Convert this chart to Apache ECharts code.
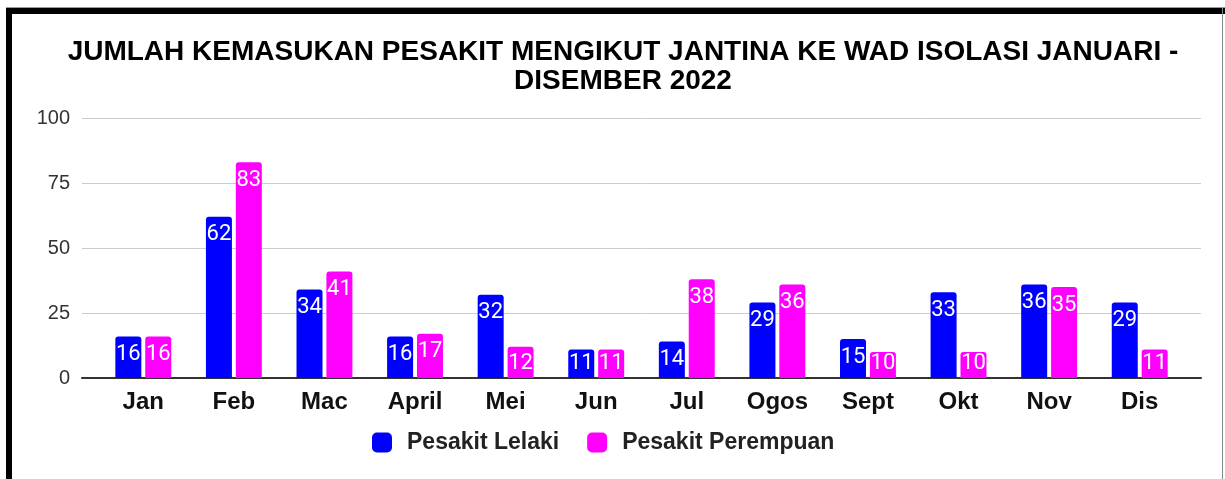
<!DOCTYPE html>
<html>
<head>
<meta charset="utf-8">
<script src="https://cdn.jsdelivr.net/npm/echarts@6/dist/echarts.min.js"></script>
<style>
  html, body { margin: 0; padding: 0; background: #fff; }
  #chart { width: 1225px; height: 479px; }
</style>
</head>
<body>
<div id="chart"></div>
<script>
var months = ['Jan', 'Feb', 'Mac', 'April', 'Mei', 'Jun', 'Jul', 'Ogos', 'Sept', 'Okt', 'Nov', 'Dis'];
var lelaki = [16, 62, 34, 16, 32, 11, 14, 29, 15, 33, 36, 29];
var perempuan = [16, 83, 41, 17, 12, 11, 38, 36, 10, 10, 35, 11];
var yTicks = [0, 25, 50, 75, 100];

var chart = echarts.init(document.getElementById('chart'));

var barLabel = {
    show: true,
    position: 'insideTop',
    distance: 7,
    color: '#fff',
    fontFamily: 'Roboto',
    fontSize: 22
};

// keep the value label inside short bars, like the original chart does
function clampLabel(p) {
    var top = p.rect.y;
    var bottom = p.rect.y + p.rect.height;
    var cy = Math.min(top + 18, bottom - 15);
    return {
        x: p.rect.x + p.rect.width / 2,
        y: cy,
        align: 'center',
        verticalAlign: 'middle'
    };
}

var option = {
    backgroundColor: '#fff',
    animation: false,
    title: {
        text: 'JUMLAH KEMASUKAN PESAKIT MENGIKUT JANTINA KE WAD ISOLASI JANUARI -\nDISEMBER 2022',
        left: 618,
        textAlign: 'center',
        top: 33,
        textStyle: {
            fontFamily: 'Liberation Sans',
            fontWeight: 'bold',
            fontSize: 28,
            lineHeight: 29,
            color: '#000'
        }
    },
    legend: {
        data: ['Pesakit Lelaki', 'Pesakit Perempuan'],
        top: 431,
        left: 372,
        itemWidth: 20,
        itemHeight: 20,
        itemGap: 28,
        icon: 'roundRect',
        padding: 0,
        textStyle: {
            fontFamily: 'Liberation Sans',
            fontWeight: 'bold',
            fontSize: 23,
            color: '#222',
            padding: [0, 0, 0, 10]
        }
    },
    grid: [
        { left: 98, right: 40, top: 118, bottom: 101 },
        { left: 82, right: 24, top: 118, bottom: 101 }
    ],
    xAxis: [
        {
            type: 'category',
            gridIndex: 0,
            data: months,
            axisLine: { show: false },
            axisTick: { show: false },
            axisLabel: {
                margin: 12,
                fontFamily: 'Liberation Sans',
                fontWeight: 'bold',
                fontSize: 24,
                color: '#111'
            }
        },
        {
            type: 'value',
            gridIndex: 1,
            min: 0,
            max: 1,
            axisLine: { show: true, onZero: false, lineStyle: { color: '#333', width: 2 } },
            axisTick: { show: false },
            axisLabel: { show: false },
            splitLine: { show: false }
        }
    ],
    yAxis: [
        {
            type: 'value',
            gridIndex: 0,
            min: 0,
            max: 100,
            interval: 25,
            show: false,
            splitLine: { show: false }
        },
        {
            type: 'value',
            gridIndex: 1,
            min: yTicks[0],
            max: yTicks[yTicks.length - 1],
            interval: 25,
            axisLine: { show: false },
            axisTick: { show: false },
            axisLabel: {
                margin: 12,
                fontFamily: 'Liberation Sans',
                fontSize: 20,
                color: '#333'
            },
            splitLine: { lineStyle: { color: '#ccc', width: 1 } }
        }
    ],
    series: [
        {
            name: 'Pesakit Lelaki',
            type: 'bar',
            xAxisIndex: 0,
            yAxisIndex: 0,
            data: lelaki,
            barWidth: 26,
            barGap: '15%',
            itemStyle: { color: '#0000ff', borderRadius: [3, 3, 0, 0] },
            label: barLabel,
            labelLayout: clampLabel,
            z: 3
        },
        {
            name: 'Pesakit Perempuan',
            type: 'bar',
            xAxisIndex: 0,
            yAxisIndex: 0,
            data: perempuan,
            barWidth: 26,
            itemStyle: { color: '#ff00ff', borderRadius: [3, 3, 0, 0] },
            label: barLabel,
            labelLayout: clampLabel,
            z: 3
        }
    ],
    graphic: [
        { type: 'rect', shape: { x: 6, y: 7, width: 1219, height: 1 }, style: { fill: '#999' }, z: 100 },
        { type: 'rect', shape: { x: 6, y: 8, width: 1219, height: 6 }, style: { fill: '#000' }, z: 100 },
        { type: 'rect', shape: { x: 6, y: 8, width: 6, height: 471 }, style: { fill: '#000' }, z: 100 },
        { type: 'rect', shape: { x: 1222, y: 8, width: 1, height: 471 }, style: { fill: '#888' }, z: 100 }
    ]
};

chart.setOption(option);
</script>
</body>
</html>
